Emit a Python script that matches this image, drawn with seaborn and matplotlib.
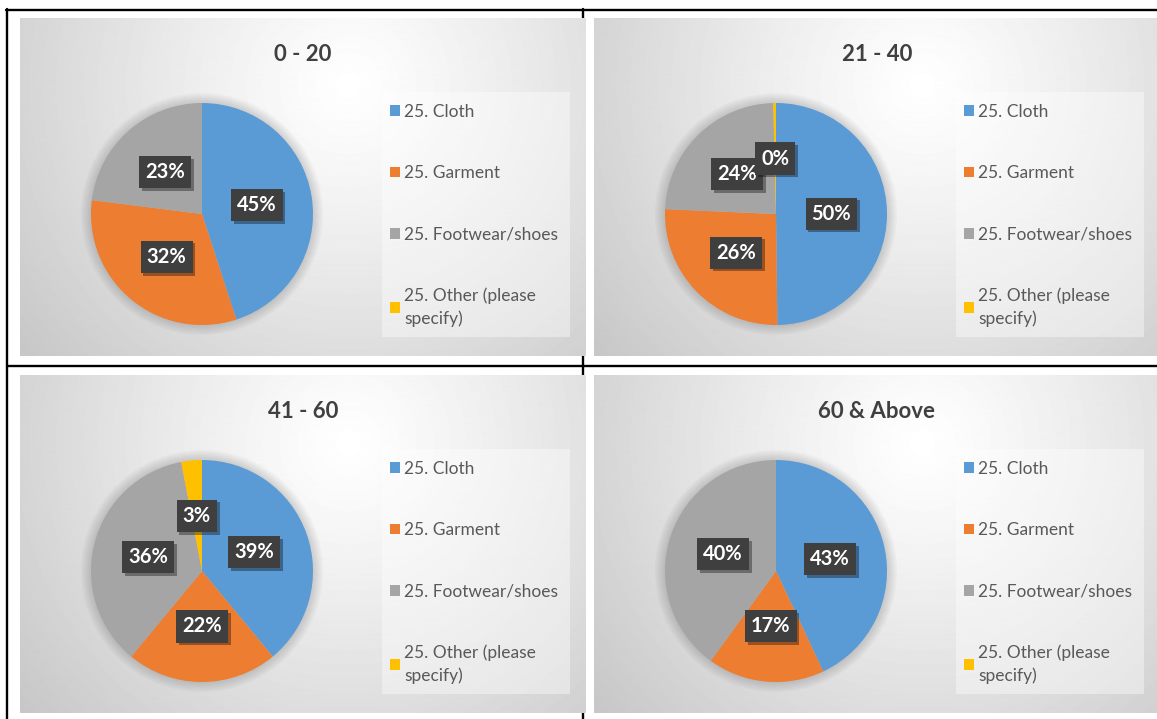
import numpy as np
import matplotlib
matplotlib.use("Agg")
import matplotlib.pyplot as plt
import matplotlib.patheffects as pe
from matplotlib.patches import Patch, Rectangle, Circle
from matplotlib.lines import Line2D
import seaborn as sns

# Data (percent shares)
groups = ["0 - 20", "21 - 40", "41 - 60", "60 & Above"]
categories = ["25. Cloth", "25. Garment", "25. Footwear/shoes", "25. Other (please\nspecify)"]
share_0_20 = [45, 32, 23, 0]
share_21_40 = [50, 26, 24, 0.4]
share_41_60 = [39, 22, 36, 3]
share_60_up = [43, 17, 40, 0]
shares = [share_0_20, share_21_40, share_41_60, share_60_up]

sns.set_theme(style="white")
palette = sns.color_palette(["#5B9BD5", "#ED7D31", "#A5A5A5", "#FFC000"])
plt.rcParams["font.family"] = ["Lato", "DejaVu Sans"]

W, H = 1157, 719
fig = plt.figure(figsize=(W / 100, H / 100), dpi=100)


def fig_rect(x0, y0, w, h):
    # pixel box (top-left origin) -> figure fraction rect
    return [x0 / W, 1 - (y0 + h) / H, w / W, h / H]


def fx(x):
    return x / W


def fy(y):
    return 1 - y / H


# table borders
for xs, ys in [((6, W), (10, 10)), ((7, 7), (9, H)), ((583, 583), (9, H)), ((7, W), (366, 366))]:
    fig.add_artist(Line2D([fx(v) for v in xs], [fy(v) for v in ys], color="black",
                          lw=1.7, zorder=-1, transform=fig.transFigure))

PW, PH = 566, 338
origins = [(20, 18), (594, 18), (20, 375), (594, 375)]

# background gradient (same for every panel)
yy, xx = np.mgrid[0:PH, 0:PW]
dist = np.hypot(xx - 0.58 * PW, yy - 0.2 * PH) / 470
grad = 1 - 0.25 * np.clip(dist, 0, 1) ** 1.15

for (ox, oy), title, vals in zip(origins, groups, shares):
    bg = fig.add_axes(fig_rect(ox, oy, PW, PH))
    bg.imshow(grad, cmap="gray", vmin=0, vmax=1, extent=(0, 1, 0, 1), aspect="auto")
    bg.set_xlim(0, 1)
    bg.set_ylim(0, 1)
    bg.axis("off")

    bg.text(283 / PW, 1 - 37 / PH, title, ha="center", va="center",
            fontsize=16, fontweight="bold", color="#404040")

    # legend box
    bg.add_patch(Rectangle((362 / PW, 1 - 319 / PH), 188 / PW, 245 / PH,
                           transform=bg.transAxes, facecolor="white", alpha=0.4,
                           edgecolor="none"))
    handles = [Patch(facecolor=c, edgecolor="none") for c in palette]
    leg = bg.legend(handles, categories, loc="upper left",
                    bbox_to_anchor=(370 / PW, 1 - 86 / PH), frameon=False,
                    fontsize=12.5, labelspacing=2.6, handlelength=0.58, handleheight=0.58,
                    handletextpad=0.25, borderaxespad=0, borderpad=0)
    for t in leg.get_texts():
        t.set_color("#595959")
        t.set_linespacing(1.45)

    # pie
    R = 111
    ax = fig.add_axes(fig_rect(ox + 182 - R, oy + 196 - R, 2 * R, 2 * R))
    for r in np.linspace(1.0, 1.09, 7):
        ax.add_patch(Circle((0, 0), r, color="black", alpha=0.025, lw=0,
                            zorder=0, clip_on=False))
    wedges, _ = ax.pie(vals, colors=palette, startangle=90, counterclock=False,
                       radius=1, wedgeprops=dict(linewidth=0))
    ax.set_xlim(-1, 1)
    ax.set_ylim(-1, 1)
    ax.set_aspect("equal")
    ax.axis("off")

    for w, v in zip(wedges, vals):
        if v <= 0:
            continue
        ang = np.deg2rad((w.theta1 + w.theta2) / 2)
        t = ax.text(0.5 * np.cos(ang), 0.5 * np.sin(ang), f"{round(v)}%",
                    ha="center", va="center", color="white", fontsize=14.5,
                    fontweight="bold", zorder=5,
                    bbox=dict(boxstyle="square,pad=0.3", fc="#3f3f3f", ec="none"))
        t.get_bbox_patch().set_path_effects([
            pe.SimplePatchShadow(offset=(2, -2), shadow_rgbFace="black", alpha=0.35),
            pe.Normal()])

fig.savefig("out.png", dpi=100, facecolor="white")
